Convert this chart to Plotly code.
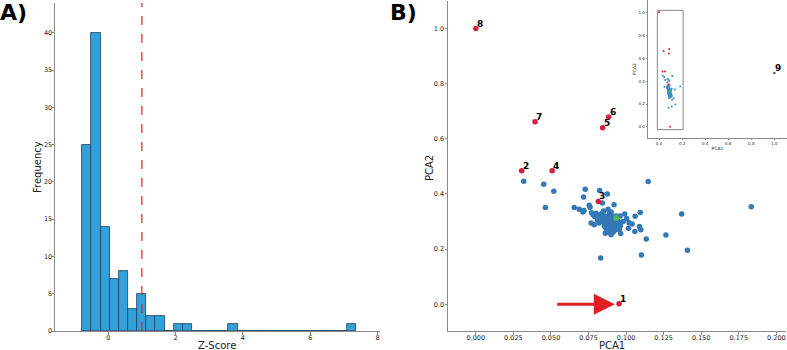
import plotly.graph_objects as go

# ---------------- Data ----------------
# Histogram (panel A)
hist_bin_start = -0.77
hist_bin_width = 0.2713
hist_counts = [25, 40, 14, 7, 8, 3, 5, 2, 2, 0, 1, 1, 0, 0, 0, 0, 1,
               0, 0, 0, 0, 0, 0, 0, 0, 0, 0, 0, 0, 1]
zscore_threshold = 1.0

# PCA scatter (panel B)
blue_x = [0.0319, 0.0452, 0.0519, 0.0463, 0.0728, 0.0717, 0.0824, 0.0875, 0.1147,
          0.0655, 0.0688, 0.0713, 0.0755, 0.0842, 0.0920, 0.0768, 0.0788, 0.1094,
          0.1060, 0.0991, 0.1004, 0.1040, 0.1016, 0.1089, 0.1098, 0.1058, 0.0962,
          0.0964, 0.0862, 0.1134, 0.1265, 0.1370, 0.1408, 0.1833, 0.1102, 0.0831,
          0.0800, 0.0810, 0.0820, 0.0830, 0.0840, 0.0845, 0.0850, 0.0855, 0.0860,
          0.0865, 0.0870, 0.0875, 0.0880, 0.0885, 0.0890, 0.0895, 0.0900, 0.0905,
          0.0910, 0.0915, 0.0920, 0.0925, 0.0930, 0.0935, 0.0860, 0.0870, 0.0880,
          0.0890, 0.0900, 0.0910, 0.0920, 0.0940, 0.0950, 0.0960, 0.0840, 0.0850,
          0.0830, 0.0820, 0.0810, 0.0790, 0.0780, 0.0770, 0.0875, 0.0885, 0.0895,
          0.0905, 0.0915, 0.0925, 0.0935, 0.0945, 0.0955, 0.0890, 0.0900, 0.0870,
          0.0865, 0.0855, 0.0720, 0.0760, 0.0980, 0.1020, 0.0880, 0.0915]
blue_y = [0.446, 0.435, 0.410, 0.351, 0.417, 0.389, 0.413, 0.400, 0.445,
          0.351, 0.345, 0.335, 0.359, 0.367, 0.361, 0.295, 0.288, 0.333,
          0.319, 0.327, 0.311, 0.291, 0.276, 0.282, 0.270, 0.264, 0.285,
          0.257, 0.258, 0.237, 0.251, 0.327, 0.196, 0.354, 0.179, 0.168,
          0.330, 0.322, 0.318, 0.326, 0.312, 0.305, 0.298, 0.320, 0.310,
          0.302, 0.295, 0.288, 0.315, 0.300, 0.292, 0.285, 0.305, 0.278,
          0.270, 0.296, 0.282, 0.268, 0.290, 0.275, 0.280, 0.272, 0.265,
          0.328, 0.335, 0.320, 0.312, 0.305, 0.298, 0.320, 0.330, 0.338,
          0.300, 0.295, 0.305, 0.318, 0.325, 0.332, 0.308, 0.282, 0.312,
          0.296, 0.305, 0.300, 0.320, 0.285, 0.270, 0.260, 0.252, 0.318,
          0.290, 0.285, 0.340, 0.352, 0.300, 0.296, 0.345, 0.262]
outlier_ids = ["1", "2", "3", "4", "5", "6", "7", "8"]
outlier_x = [0.0953, 0.0305, 0.0815, 0.0508, 0.0844, 0.0884, 0.0394, 0.0000]
outlier_y = [0.002, 0.484, 0.373, 0.484, 0.640, 0.679, 0.662, 1.000]
centroid_x = [0.0935]
centroid_y = [0.313]
far_id = "9"
far_x = [1.0]
far_y = [0.47]

# arrow pointing at outlier 1 (tail x, tip x, y)
arrow_tail_x = 0.0532
arrow_tip_x = 0.0925
arrow_y = 0.0

# zoom rectangle drawn on the inset
zoom_box = dict(x0=-0.015, x1=0.209, y0=-0.023, y1=1.017)

# ---------------- Styling ----------------
FONT = "DejaVu Sans"
BLUE = "#3478b8"
RED = "#d81e3c"
GREEN = "#4cbb47"
BAR = "#33a1d9"
BAR_EDGE = "#1c3e5f"
AXIS = "#8a8a8a"
TXT = "#222222"

W, H = 787, 350

def dx(p0, p1):
    return [p0 / W, p1 / W]

def dy(top, bottom):
    return [1 - bottom / H, 1 - top / H]

def px(xp):
    return xp / W

def py(yp):
    return 1 - yp / H

fig = go.Figure()

# ---- Panel A histogram ----
centers = [hist_bin_start + (i + 0.5) * hist_bin_width for i in range(len(hist_counts))]
fig.add_trace(go.Bar(
    x=centers, y=hist_counts, width=hist_bin_width,
    marker=dict(color=BAR, line=dict(color=BAR_EDGE, width=0.8)),
    xaxis="x", yaxis="y", showlegend=False))

# ---- Panel B scatter ----
fig.add_trace(go.Scatter(x=blue_x, y=blue_y, mode="markers",
                         marker=dict(color=BLUE, size=5.5),
                         xaxis="x2", yaxis="y2", showlegend=False))
fig.add_trace(go.Scatter(x=centroid_x, y=centroid_y, mode="markers",
                         marker=dict(color=GREEN, size=6),
                         xaxis="x2", yaxis="y2", showlegend=False))
fig.add_trace(go.Scatter(x=outlier_x, y=outlier_y, mode="markers",
                         marker=dict(color=RED, size=5.5),
                         xaxis="x2", yaxis="y2", showlegend=False))

# ---- Inset ----
fig.add_trace(go.Scatter(x=blue_x, y=blue_y, mode="markers",
                         marker=dict(color="#3c8fc0", size=2),
                         xaxis="x3", yaxis="y3", showlegend=False))
fig.add_trace(go.Scatter(x=centroid_x, y=centroid_y, mode="markers",
                         marker=dict(color=GREEN, size=2),
                         xaxis="x3", yaxis="y3", showlegend=False))
fig.add_trace(go.Scatter(x=outlier_x, y=outlier_y, mode="markers",
                         marker=dict(color=RED, size=2),
                         xaxis="x3", yaxis="y3", showlegend=False))
fig.add_trace(go.Scatter(x=far_x, y=far_y, mode="markers",
                         marker=dict(color="#555555", size=2.5),
                         xaxis="x3", yaxis="y3", showlegend=False))

axis_common = dict(showline=True, linecolor=AXIS, linewidth=1, ticks="outside",
                   ticklen=2.5, tickcolor=AXIS, showgrid=False, zeroline=False,
                   automargin=False,
                   tickfont=dict(family=FONT, size=6.5, color=TXT), mirror=False)
inset_common = dict(showline=True, linecolor=AXIS, linewidth=0.8,
                    ticks="outside", ticklen=1.5, tickcolor=AXIS, showgrid=False,
                    zeroline=False, automargin=False,
                    tickfont=dict(family=FONT, size=4, color=TXT))

fig.update_layout(
    width=W, height=H,
    margin=dict(l=0, r=0, t=0, b=0, autoexpand=False),
    paper_bgcolor="white", plot_bgcolor="white",
    font=dict(family=FONT, color=TXT),
    bargap=0,
    xaxis=dict(domain=dx(55, 380), range=[-1.58, 8.07], dtick=2, tick0=0,
               ticklabelstandoff=-2, anchor="y", **axis_common),
    yaxis=dict(domain=dy(3, 331), range=[0, 44], dtick=5, tick0=0,
               ticklabelstandoff=-2, anchor="x", **axis_common),
    xaxis2=dict(domain=dx(448, 786), range=[-0.0185, 0.2064], dtick=0.025, tick0=0,
                tickformat=".3f", ticklabelstandoff=-2,
                anchor="y2", **axis_common),
    yaxis2=dict(domain=dy(1, 331), range=[-0.097, 1.10], dtick=0.2, tick0=0,
                tickformat=".1f", ticklabelstandoff=-1,
                anchor="x2", **axis_common),
    xaxis3=dict(domain=dx(648, 787), range=[-0.096, 1.11], dtick=0.2, tick0=0,
                tickformat=".1f",
                title=dict(text="PCA1", font=dict(size=4.5), standoff=1),
                anchor="y3", **inset_common),
    yaxis3=dict(domain=dy(0, 138), range=[-0.096, 1.107], dtick=0.2, tick0=0,
                tickformat=".1f",
                title=dict(text="PCA2", font=dict(size=4.5), standoff=1),
                anchor="x3", **inset_common),
)

shapes = [
    dict(type="line", xref="x", yref="y domain", x0=zscore_threshold, x1=zscore_threshold,
         y0=0, y1=1, line=dict(color="#d62728", width=1.2, dash="dash")),
    dict(type="rect", xref="x3", yref="y3", x0=zoom_box["x0"], x1=zoom_box["x1"],
         y0=zoom_box["y0"], y1=zoom_box["y1"], line=dict(color="#666666", width=0.8)),
]
fig.update_layout(shapes=shapes)

annotations = []
for lab, xv, yv in zip(outlier_ids, outlier_x, outlier_y):
    annotations.append(dict(x=xv, y=yv, xref="x2", yref="y2", text="<b>%s</b>" % lab,
                            showarrow=False, xanchor="left", yanchor="bottom",
                            xshift=-1, yshift=-2,
                            font=dict(family=FONT, size=9, color="black")))
annotations.append(dict(x=far_x[0], y=far_y[0], xref="x3", yref="y3", text="<b>%s</b>" % far_id,
                        showarrow=False, xanchor="left", yanchor="bottom",
                        xshift=-1, yshift=-2,
                        font=dict(family=FONT, size=9, color="black")))
annotations.append(dict(x=arrow_tip_x, y=arrow_y, xref="x2", yref="y2",
                        ax=arrow_tail_x, ay=arrow_y, axref="x2", ayref="y2",
                        text="", showarrow=True, arrowhead=2, arrowsize=1.4,
                        arrowwidth=3, arrowcolor="#e02020", standoff=0))
# axis titles (placed as paper annotations)
title_font = dict(family=FONT, size=10, color=TXT)
annotations += [
    dict(x=px(217), y=py(345.5), xref="paper", yref="paper", text="Z-Score",
         showarrow=False, xanchor="center", yanchor="middle", font=title_font),
    dict(x=px(38), y=py(167), xref="paper", yref="paper", text="Frequency",
         showarrow=False, xanchor="center", yanchor="middle", textangle=-90, font=title_font),
    dict(x=px(612), y=py(345.5), xref="paper", yref="paper", text="PCA1",
         showarrow=False, xanchor="center", yanchor="middle", font=title_font),
    dict(x=px(429), y=py(168), xref="paper", yref="paper", text="PCA2",
         showarrow=False, xanchor="center", yanchor="middle", textangle=-90, font=title_font),
]
annotations.append(dict(x=0, y=1, xref="paper", yref="paper", text="<b>A)</b>",
                        showarrow=False, xanchor="left", yanchor="top",
                        xshift=-2, yshift=2,
                        font=dict(family=FONT, size=22, color="black")))
annotations.append(dict(x=390 / W, y=1, xref="paper", yref="paper", text="<b>B)</b>",
                        showarrow=False, xanchor="left", yanchor="top",
                        xshift=-2, yshift=2,
                        font=dict(family=FONT, size=22, color="black")))
fig.update_layout(annotations=annotations)

fig.write_html("out.html", config={"displayModeBar": False},
               post_script="document.body.style.margin='0';document.body.style.overflow='hidden';")
